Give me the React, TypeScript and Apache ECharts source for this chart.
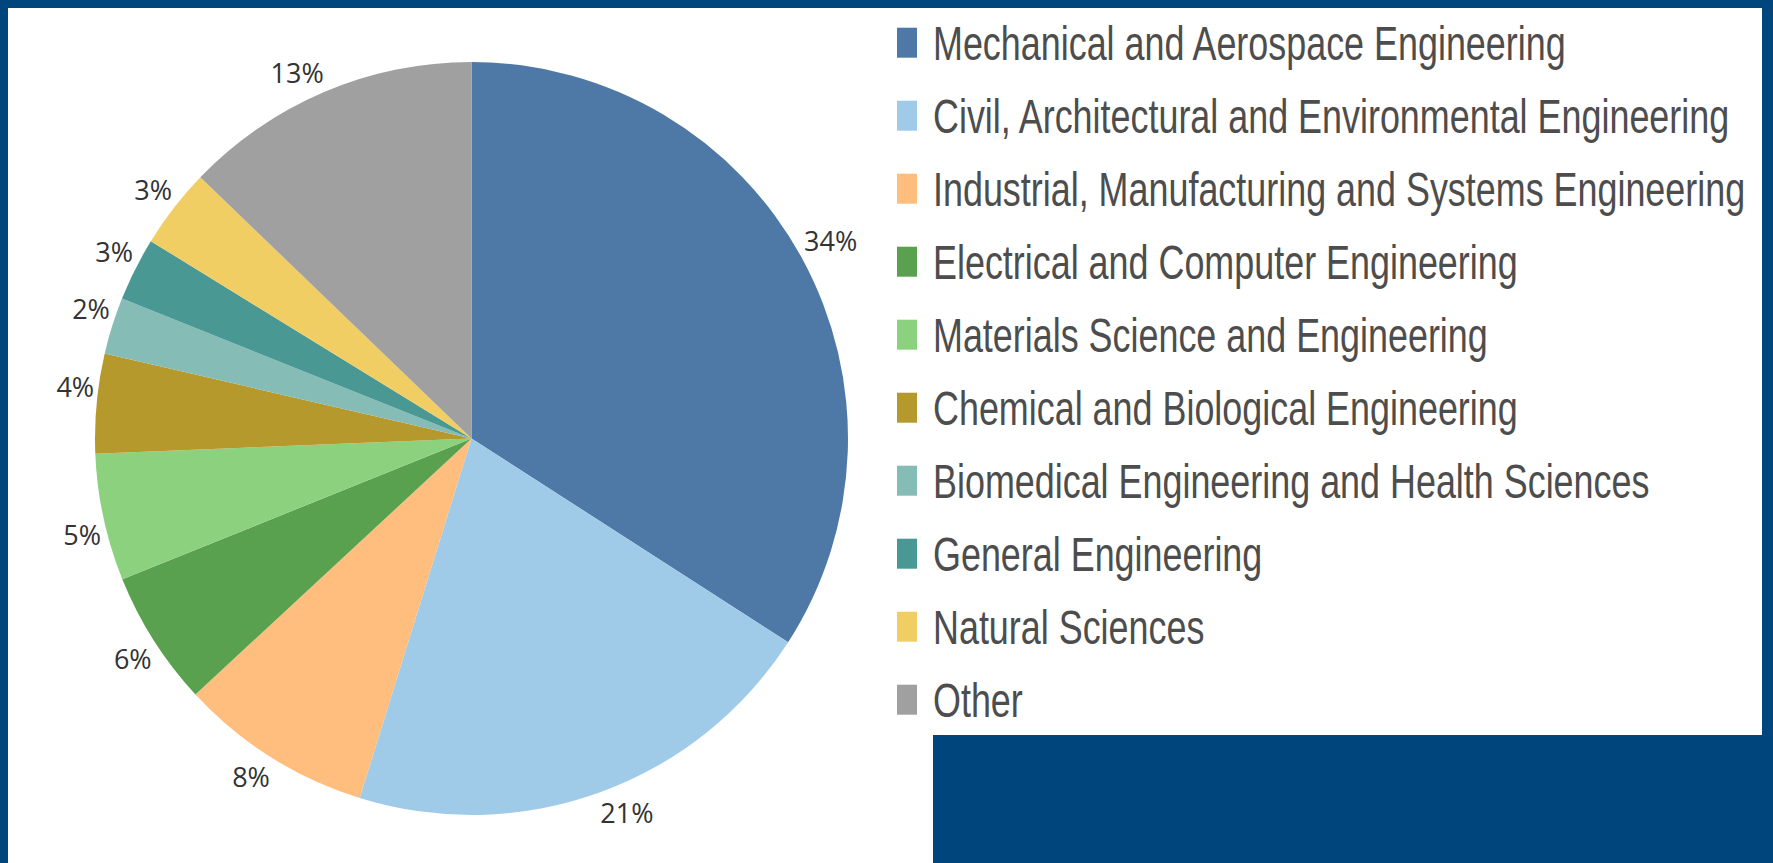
import React, { useEffect, useRef } from "react";
import * as echarts from "echarts";

const categories = [
  "Mechanical and Aerospace Engineering",
  "Civil, Architectural and Environmental Engineering",
  "Industrial, Manufacturing and Systems Engineering",
  "Electrical and Computer Engineering",
  "Materials Science and Engineering",
  "Chemical and Biological Engineering",
  "Biomedical Engineering and Health Sciences",
  "General Engineering",
  "Natural Sciences",
  "Other",
];

const shares = [34.1, 20.7, 8.3, 5.8, 5.46, 4.26, 2.44, 2.72, 3.42, 12.8];

const colors = [
  "#4E79A7",
  "#A0CBE8",
  "#FFBE7D",
  "#59A14F",
  "#8CD17D",
  "#B6992D",
  "#86BCB6",
  "#499894",
  "#F1CE63",
  "#A0A0A0",
];

const W = 1773;
const H = 863;
const CX = 471.5;
const CY = 438.5;
const R = 376.5;
const LABEL_GAP = 3.5;
const LABEL_FONT = 27;

const LEGEND_FONT = 49;
const LEGEND_FAMILY = "'Liberation Sans', Arial, sans-serif";
const LEGEND_X = 897;
const LEGEND_Y0 = 42.7;
const LEGEND_STEP = 73;
const LEGEND_TEXT_X = 933;
const LEGEND_FIRST_WIDTH = 635;

function measure(text: string, font: string): number {
  const c = document.createElement("canvas");
  const ctx = c.getContext("2d")!;
  ctx.font = font;
  return ctx.measureText(text).width;
}

export default function App() {
  const ref = useRef<HTMLDivElement>(null);

  useEffect(() => {
    const chart = echarts.init(ref.current!, null, { renderer: "svg" });
    const total = shares.reduce((a, b) => a + b, 0);
    const mids: number[] = [];
    let acc = 0;
    shares.forEach((v) => {
      mids.push(((acc + v / 2) / total) * 2 * Math.PI);
      acc += v;
    });

    const legendFont = `${LEGEND_FONT}px ${LEGEND_FAMILY}`;
    const w0 = measure(categories[0], legendFont) || 866;
    const sx = LEGEND_FIRST_WIDTH / w0;

    const legendItems: any[] = [];
    categories.forEach((name, i) => {
      const cy = LEGEND_Y0 + LEGEND_STEP * i;
      legendItems.push({
        type: "rect",
        silent: true,
        shape: { x: LEGEND_X, y: cy - 15, width: 20, height: 30 },
        style: { fill: colors[i] },
      });
      legendItems.push({
        type: "text",
        silent: true,
        x: LEGEND_TEXT_X,
        y: cy,
        scaleX: sx,
        style: {
          text: name,
          fontSize: LEGEND_FONT,
          fontFamily: LEGEND_FAMILY,
          fill: "#4d4d4d",
          align: "left",
          verticalAlign: "middle",
        },
      });
    });

    chart.setOption({
      animation: false,
      backgroundColor: "#00457B",
      graphic: [
        {
          type: "polygon",
          z: 0,
          silent: true,
          shape: {
            points: [
              [8, 8],
              [1762, 8],
              [1762, 735],
              [933, 735],
              [933, 863],
              [8, 863],
            ],
          },
          style: { fill: "#ffffff" },
        },
        {
          type: "group",
          z: 5,
          children: legendItems,
        },
      ],
      series: [
        {
          type: "pie",
          center: [CX, CY],
          radius: R,
          startAngle: 90,
          clockwise: true,
          avoidLabelOverlap: false,
          itemStyle: { borderWidth: 0 },
          emphasis: { disabled: true },
          data: categories.map((name, i) => ({
            name,
            value: shares[i],
            itemStyle: { color: colors[i] },
          })),
          label: {
            show: true,
            position: "outside",
            formatter: (p: any) => Math.round(p.percent) + "%",
            fontFamily: "'Open Sans', sans-serif",
            fontSize: LABEL_FONT,
            color: "#333333",
          },
          labelLine: { show: false },
          labelLayout: (params: any) => {
            const th = mids[params.dataIndex];
            const s = Math.sin(th);
            const c = Math.cos(th);
            const d = R + LABEL_GAP;
            const px = CX + d * s;
            const py = CY - d * c;
            const off = LABEL_FONT * 0.61;
            return {
              x: px + (s >= 0 ? -1 : 1),
              y: c >= 0 ? py - off : py + off,
              align: s >= 0 ? "left" : "right",
              verticalAlign: "middle",
            };
          },
        },
      ],
    });

    return () => chart.dispose();
  }, []);

  return (
    <div
      ref={ref}
      style={{ position: "fixed", left: 0, top: 0, width: W, height: H }}
    />
  );
}
